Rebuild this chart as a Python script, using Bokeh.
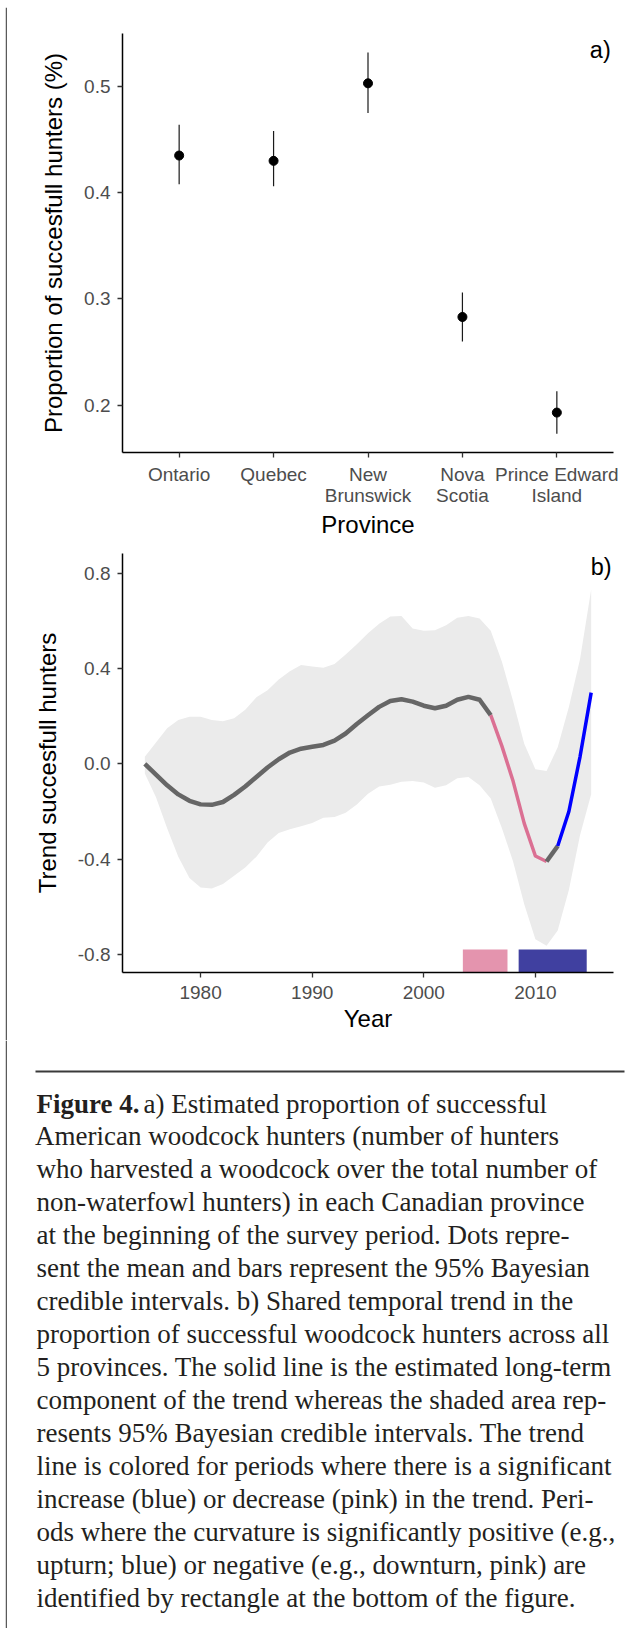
from bokeh.plotting import figure
from bokeh.models import Range1d, FixedTicker, LinearAxis
from bokeh.layouts import column, row
from bokeh.embed import file_html
from bokeh.resources import INLINE
from bokeh.core.properties import value

# ---------------- data: panel a ----------------
provinces = ["Ontario", "Quebec", "New Brunswick", "Nova Scotia", "Prince Edward Island"]
province_pos = [1, 2, 3, 4, 5]
label_line1 = ["Ontario", "Quebec", "New", "Nova", "Prince Edward"]
label_line2 = ["", "", "Brunswick", "Scotia", "Island"]
prop_mean = [0.435, 0.430, 0.503, 0.283, 0.193]
prop_low = [0.408, 0.406, 0.475, 0.260, 0.173]
prop_high = [0.464, 0.458, 0.532, 0.306, 0.213]
a_ticks = [0.2, 0.3, 0.4, 0.5]
a_tick_labels = ["0.2", "0.3", "0.4", "0.5"]

# ---------------- data: panel b ----------------
years = list(range(1975, 2016))
trend = [0.000, -0.045, -0.090, -0.128, -0.155, -0.170, -0.172, -0.160, -0.130, -0.095,
         -0.055, -0.015, 0.020, 0.048, 0.064, 0.072, 0.080, 0.098, 0.128, 0.168,
         0.205, 0.240, 0.265, 0.272, 0.262, 0.245, 0.234, 0.245, 0.270, 0.282,
         0.270, 0.205, 0.075, -0.072, -0.250, -0.387, -0.410, -0.345, -0.200, 0.030,
         0.300]
ci_high = [0.03, 0.09, 0.15, 0.185, 0.198, 0.198, 0.185, 0.180, 0.192, 0.228,
           0.280, 0.310, 0.355, 0.390, 0.416, 0.410, 0.405, 0.420, 0.460, 0.503,
           0.550, 0.590, 0.620, 0.622, 0.570, 0.560, 0.562, 0.583, 0.615, 0.622,
           0.612, 0.560, 0.430, 0.265, 0.085, -0.022, -0.030, 0.070, 0.240, 0.440,
           0.734]
ci_low = [-0.04, -0.14, -0.27, -0.39, -0.48, -0.52, -0.524, -0.505, -0.47, -0.435,
          -0.39, -0.33, -0.29, -0.275, -0.262, -0.248, -0.226, -0.223, -0.205, -0.17,
          -0.125, -0.095, -0.087, -0.075, -0.072, -0.078, -0.10, -0.09, -0.06, -0.055,
          -0.09, -0.145, -0.27, -0.41, -0.59, -0.737, -0.765, -0.70, -0.53, -0.30,
          -0.127]
# trend-line colouring periods (start year, end year, colour)
seg_start = [1975, 2006, 2011, 2012]
seg_end = [2006, 2011, 2012, 2015]
seg_color = ["#666666", "#DB7093", "#666666", "#0000FF"]
seg_width = [4.5, 3.5, 4.5, 3.5]
# curvature rectangles
curv_start = [2003.5, 2008.5]
curv_end = [2007.5, 2014.6]
curv_color = ["#E494AE", "#4040A0"]
curv_top = -0.78
b_xticks = [1980, 1990, 2000, 2010]
b_yticks = [-0.8, -0.4, 0.0, 0.4, 0.8]
b_ytick_labels = ["-0.8", "-0.4", "0.0", "0.4", "0.8"]

caption_lines = [
    "a) Estimated proportion of successful",
    "American woodcock hunters (number of hunters",
    "who harvested a woodcock over the total number of",
    "non-waterfowl hunters) in each Canadian province",
    "at the beginning of the survey period. Dots repre-",
    "sent the mean and bars represent the 95% Bayesian",
    "credible intervals. b) Shared temporal trend in the",
    "proportion of successful woodcock hunters across all",
    "5 provinces. The solid line is the estimated long-term",
    "component of the trend whereas the shaded area rep-",
    "resents 95% Bayesian credible intervals. The trend",
    "line is colored for periods where there is a significant",
    "increase (blue) or decrease (pink) in the trend. Peri-",
    "ods where the curvature is significantly positive (e.g.,",
    "upturn; blue) or negative (e.g., downturn, pink) are",
    "identified by rectangle at the bottom of the figure.",
]

SANS = "Liberation Sans"
SERIF = "Liberation Serif"
TICK_COL = "#4D4D4D"


def style_axis(ax):
    ax.axis_line_color = "black"
    ax.axis_line_width = 1.5
    ax.major_tick_line_color = "#333333"
    ax.major_tick_line_width = 1.3
    ax.major_tick_out = 5
    ax.major_tick_in = 0
    ax.minor_tick_line_color = None
    ax.major_label_text_font = SANS
    ax.major_label_text_font_size = "19px"
    ax.major_label_text_color = TICK_COL
    ax.axis_label_text_font = SANS
    ax.axis_label_text_font_size = "24px"
    ax.axis_label_text_font_style = "normal"
    ax.axis_label_text_color = "black"


def style(p):
    style_axis(p.xaxis[0])
    style_axis(p.yaxis[0])
    p.xgrid.grid_line_color = None
    p.ygrid.grid_line_color = None
    p.outline_line_color = None
    p.background_fill_color = "white"
    p.border_fill_color = "white"


def blank(p):
    p.axis.visible = False
    p.grid.grid_line_color = None
    p.outline_line_color = None


# ---------------- panel a ----------------
pa = figure(width=635, height=533,
            x_range=Range1d(0.4, 5.6), y_range=Range1d(0.1554, 0.5499),
            output_backend="svg", toolbar_location=None,
            min_border_left=115, min_border_right=29, min_border_top=26, min_border_bottom=88)
style(pa)
pa.segment(x0=province_pos, y0=prop_low, x1=province_pos, y1=prop_high, line_color="#1a1a1a", line_width=1.2)
pa.scatter(x=province_pos, y=prop_mean, size=9, color="black")
pa.yaxis.ticker = FixedTicker(ticks=a_ticks)
pa.yaxis.major_label_overrides = dict(zip(a_ticks, a_tick_labels))
pa.xaxis.ticker = FixedTicker(ticks=province_pos)
pa.xaxis.major_label_overrides = dict(zip(province_pos, label_line1))
pa.xaxis.major_label_standoff = 6
pa.yaxis.major_label_standoff = 7
pa.yaxis.axis_label = "Proportion of succesfull hunters (%)"
pa.yaxis.axis_label_standoff = 14
# second line of the province tick labels, plus the axis title
ax2 = LinearAxis(ticker=FixedTicker(ticks=province_pos))
style_axis(ax2)
ax2.axis_line_color = None
ax2.major_tick_line_color = None
ax2.major_tick_out = 0
ax2.major_label_standoff = -3
ax2.major_label_overrides = dict(zip(province_pos, label_line2))
ax2.axis_label = "Province"
ax2.axis_label_standoff = 2
pa.add_layout(ax2, "below")
pa.text(x=[5.46], y=[0.5346], text=["a)"], text_font=value(SANS), text_font_size="23.5px",
        text_align="center", text_baseline="middle", text_color="black")

# ---------------- panel b ----------------
pb = figure(width=635, height=500,
            x_range=Range1d(1973, 2017), y_range=Range1d(-0.877, 0.885),
            output_backend="svg", toolbar_location=None,
            min_border_left=115, min_border_right=29, min_border_top=13, min_border_bottom=68)
style(pb)
pb.varea(x=years, y1=ci_low, y2=ci_high, fill_color="#EBEBEB")
for s, e, c, w in zip(seg_start, seg_end, seg_color, seg_width):
    xs = [yr for yr in years if s <= yr <= e]
    ys = [v for yr, v in zip(years, trend) if s <= yr <= e]
    pb.line(xs, ys, line_color=c, line_width=w, line_join="round")
pb.quad(left=curv_start, right=curv_end, bottom=[pb.y_range.start] * len(curv_start),
        top=[curv_top] * len(curv_start), fill_color=curv_color, line_color=None)
pb.xaxis.ticker = FixedTicker(ticks=b_xticks)
pb.yaxis.ticker = FixedTicker(ticks=b_yticks)
pb.yaxis.major_label_overrides = dict(zip(b_yticks, b_ytick_labels))
pb.xaxis.major_label_standoff = 8
pb.yaxis.major_label_standoff = 7
pb.xaxis.axis_label = "Year"
pb.yaxis.axis_label = "Trend succesfull hunters"
pb.xaxis.axis_label_standoff = 3
pb.yaxis.axis_label_standoff = 14
pb.text(x=[2015.9], y=[0.828], text=["b)"], text_font=value(SANS), text_font_size="23.5px",
        text_align="center", text_baseline="middle", text_color="black")

# ---------------- caption ----------------
pc = figure(width=635, height=588, x_range=Range1d(7, 642), y_range=Range1d(1628, 1040),
            output_backend="svg", toolbar_location=None, min_border=0)
blank(pc)
pc.segment(x0=[35], y0=[1071], x1=[624], y1=[1071], line_color="#3a3a3a", line_width=2)
base0 = 1103
step = 32.95
xs = [143] + [34.5] + [36] * (len(caption_lines) - 2)
ys = [base0 + step * i for i in range(len(caption_lines))]
pc.text(x=[36], y=[base0], text=["Figure 4."], text_font=value(SERIF), text_font_size="27px",
        text_font_style="bold", text_baseline="alphabetic", text_color="#231F20")
pc.text(x=xs, y=ys, text=caption_lines, text_font=value(SERIF), text_font_size="27px",
        text_baseline="alphabetic", text_color="#231F20")

# ---------------- frame strips ----------------
top = figure(width=642, height=7, x_range=Range1d(0, 642), y_range=Range1d(7, 0),
             output_backend="svg", toolbar_location=None, min_border=0)
blank(top)
top.segment(x0=[5.5], y0=[6], x1=[642], y1=[6], line_color="#5a5a5a", line_width=1.5)

left1 = figure(width=7, height=1033, x_range=Range1d(0, 7), y_range=Range1d(1040, 7),
               output_backend="svg", toolbar_location=None, min_border=0)
blank(left1)
left1.segment(x0=[6], y0=[7], x1=[6], y1=[1040], line_color="#5a5a5a", line_width=1.5)

left2 = figure(width=7, height=588, x_range=Range1d(0, 7), y_range=Range1d(1628, 1040),
               output_backend="svg", toolbar_location=None, min_border=0)
blank(left2)
left2.segment(x0=[6], y0=[1040], x1=[6], y1=[1628], line_color="#5a5a5a", line_width=1.5)

layout = column(top, row(left1, column(pa, pb)), row(left2, pc))
open("out.html", "w").write(file_html(layout, INLINE))
